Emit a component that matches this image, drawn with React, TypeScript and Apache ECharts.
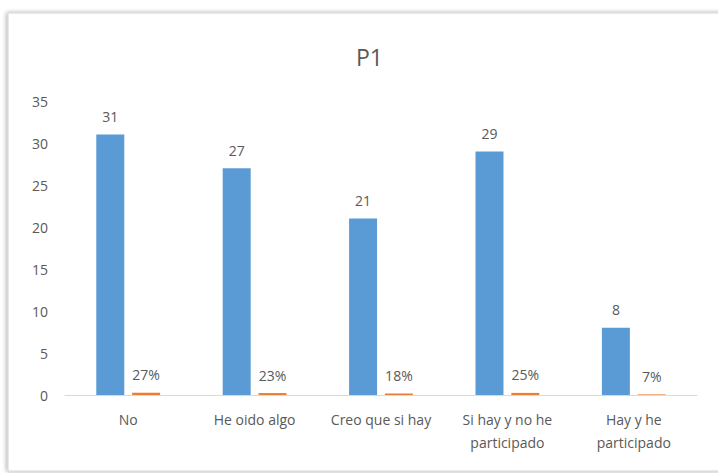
import React, { useEffect, useRef } from "react";
import * as echarts from "echarts";

const categories = [
  "No",
  "He oido algo",
  "Creo que si hay",
  "Si hay y no he\nparticipado",
  "Hay y he\nparticipado",
];
const counts = [31, 27, 21, 29, 8];
const shares = [0.27, 0.23, 0.18, 0.25, 0.07];
const yTicks = { min: 0, max: 35, interval: 5 };

const FONT = "Open Sans";
const TEXT = "#595959";

export default function App() {
  const ref = useRef<HTMLDivElement>(null);
  useEffect(() => {
    if (!ref.current) return;
    const chart = echarts.init(ref.current, undefined, { renderer: "svg" });
    chart.setOption({
      animation: false,
      backgroundColor: "#ffffff",
      textStyle: { fontFamily: FONT, color: TEXT },
      title: {
        text: "P1",
        left: 351,
        top: 40,
        textStyle: { fontFamily: FONT, fontSize: 23, fontWeight: "normal", color: TEXT },
      },
      graphic: [
        {
          type: "rect",
          z: -10,
          shape: { x: 8, y: 13, width: 730, height: 458 },
          style: {
            fill: "#ffffff",
            stroke: "#d4d4d4",
            lineWidth: 1,
            shadowColor: "rgba(0,0,0,0.35)",
            shadowBlur: 4,
            shadowOffsetX: -1,
            shadowOffsetY: 0,
          },
        },
      ],
      grid: { left: 65, right: 21, top: 101, bottom: 78, containLabel: false },
      xAxis: {
        type: "category",
        data: categories,
        axisLine: { lineStyle: { color: "#d9d9d9", width: 1 } },
        axisTick: { show: false },
        axisLabel: {
          fontFamily: FONT,
          fontSize: 14,
          color: TEXT,
          margin: 13,
          lineHeight: 23,
          interval: 0,
        },
      },
      yAxis: {
        type: "value",
        min: yTicks.min,
        max: yTicks.max,
        interval: yTicks.interval,
        axisLine: { show: false },
        axisTick: { show: false },
        splitLine: { show: false },
        axisLabel: { fontFamily: FONT, fontSize: 14, color: TEXT, margin: 17 },
      },
      series: [
        {
          type: "bar",
          data: counts,
          barWidth: 28,
          barGap: "28%",
          itemStyle: { color: "#5B9BD5" },
          label: {
            show: true,
            position: "top",
            distance: 11,
            fontFamily: FONT,
            fontSize: 14,
            color: TEXT,
          },
        },
        {
          type: "bar",
          data: shares,
          barWidth: 28,
          itemStyle: { color: "#ED7D31" },
          label: {
            show: true,
            position: "top",
            distance: 11,
            fontFamily: FONT,
            fontSize: 14,
            color: TEXT,
            formatter: (p: any) => Math.round(p.value * 100) + "%",
          },
        },
      ],
    });
    return () => chart.dispose();
  }, []);
  return (
    <div
      ref={ref}
      style={{ position: "fixed", left: 0, top: 0, width: 718, height: 473 }}
    />
  );
}
